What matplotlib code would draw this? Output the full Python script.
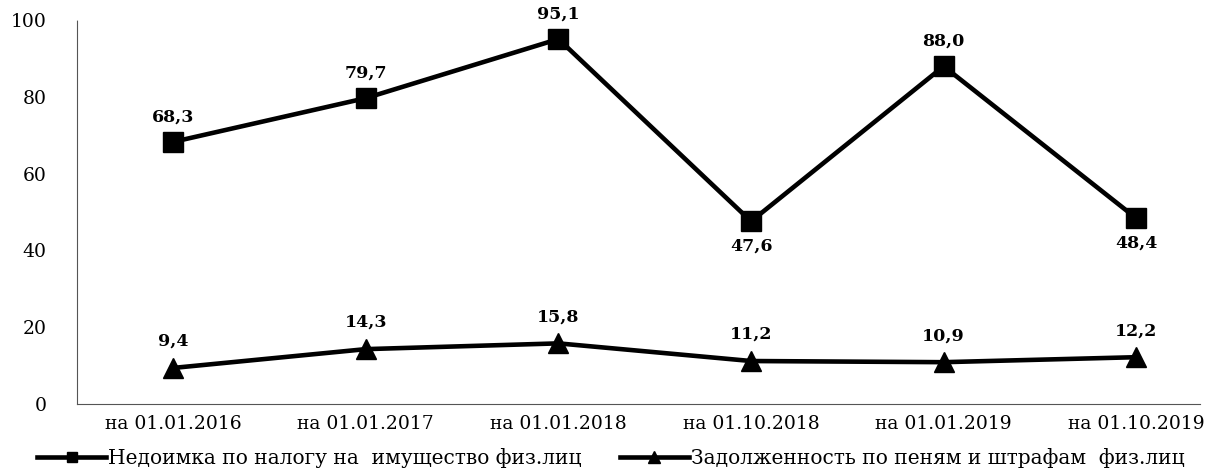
import matplotlib
matplotlib.use("Agg")
import matplotlib.pyplot as plt
from matplotlib.lines import Line2D

# ---- data ----
dates = ["на 01.01.2016", "на 01.01.2017", "на 01.01.2018",
         "на 01.10.2018", "на 01.01.2019", "на 01.10.2019"]
arrears = [68.3, 79.7, 95.1, 47.6, 88.0, 48.4]
penalties = [9.4, 14.3, 15.8, 11.2, 10.9, 12.2]
arrears_labels = ["68,3", "79,7", "95,1", "47,6", "88,0", "48,4"]
penalties_labels = ["9,4", "14,3", "15,8", "11,2", "10,9", "12,2"]
arrears_below = [False, False, False, True, False, True]
yticks = [0, 20, 40, 60, 80, 100]

name1 = "Недоимка по налогу на  имущество физ.лиц"
name2 = "Задолженность по пеням и штрафам  физ.лиц"

plt.rcParams["font.family"] = ["DejaVu Serif"]

fig = plt.figure(figsize=(12.1, 4.7), dpi=100)
ax = fig.add_axes([0.0636, 0.1404, 0.928, 0.8166])

x = list(range(len(dates)))
ax.plot(x, arrears, color="black", lw=3.3, marker="s", ms=14, zorder=3)
ax.plot(x, penalties, color="black", lw=3.3, marker="^", ms=15, zorder=3)

for xi, v, lab, below in zip(x, arrears, arrears_labels, arrears_below):
    off = -12 if below else 12
    ax.annotate(lab, (xi, v), xytext=(0, off), textcoords="offset points",
                ha="center", va="top" if below else "bottom",
                fontsize=12.5, fontweight="bold")
for xi, v, lab in zip(x, penalties, penalties_labels):
    ax.annotate(lab, (xi, v), xytext=(0, 13), textcoords="offset points",
                ha="center", va="bottom", fontsize=12.5, fontweight="bold")

ax.set_xlim(-0.5, 5.33)
ax.set_ylim(0, 100)
ax.set_yticks(yticks)
ax.set_xticks(x)
ax.set_xticklabels(dates)
ax.tick_params(axis="both", length=0, labelsize=13.5)
ax.tick_params(axis="y", pad=22)
ax.tick_params(axis="x", pad=8)

for s in ["top", "right"]:
    ax.spines[s].set_visible(False)
for s in ["left", "bottom"]:
    ax.spines[s].set_linestyle((0, (1, 1)))
    ax.spines[s].set_color("#555555")
    ax.spines[s].set_linewidth(0.8)

handles = [
    Line2D([], [], color="black", lw=3.3, marker="s", ms=7),
    Line2D([], [], color="black", lw=3.3, marker="^", ms=8),
]
fig.legend(handles, [name1, name2], loc="lower center",
           bbox_to_anchor=(0.505, -0.035), ncol=2, frameon=False,
           fontsize=14.5, handlelength=3.4, handletextpad=0.12,
           columnspacing=1.9)

fig.savefig("out.png", dpi=100)
